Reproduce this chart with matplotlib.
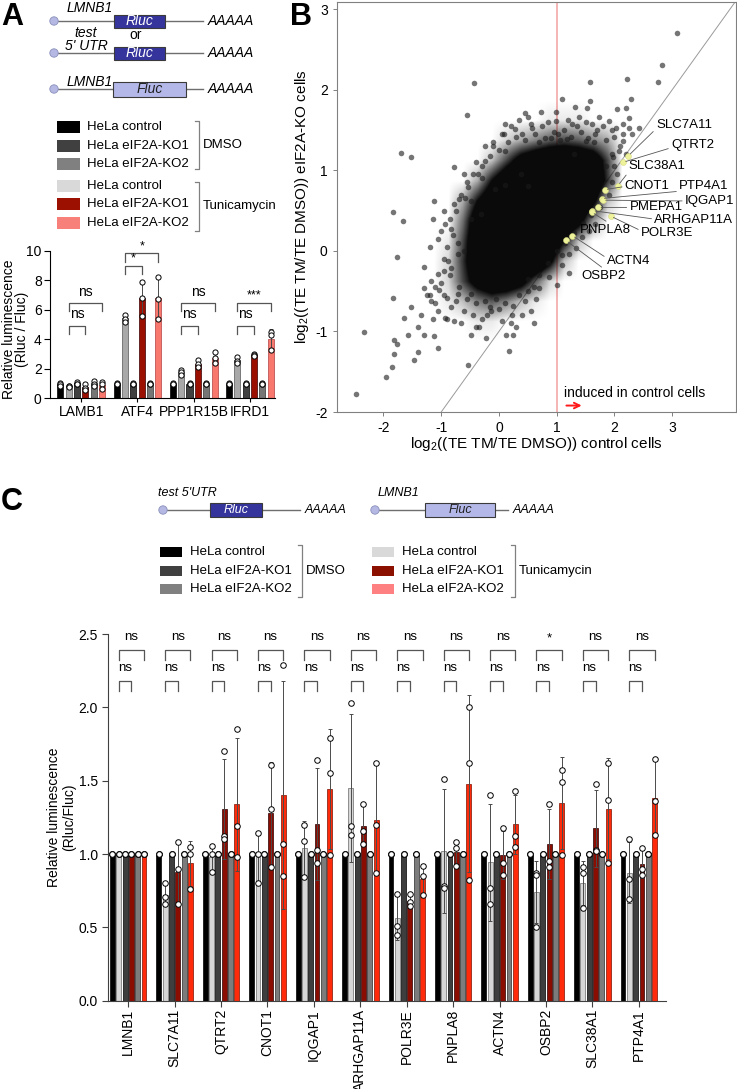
import numpy as np
import matplotlib
matplotlib.use('Agg')
import matplotlib.pyplot as plt
from matplotlib.patches import Rectangle, Circle
from matplotlib.colors import LinearSegmentedColormap

plt.rcParams['font.family'] = ['Liberation Sans', 'DejaVu Sans']
plt.rcParams['mathtext.fontset'] = 'custom'
plt.rcParams['mathtext.rm'] = 'Liberation Sans'
plt.rcParams['axes.unicode_minus'] = False

NARROW = ['Liberation Sans Narrow', 'Liberation Sans', 'DejaVu Sans']

# ---------------- panel A data (replicates, bar = mean) ----------------
genes_a = ['LAMB1', 'ATF4', 'PPP1R15B', 'IFRD1']
ctrl_dmso_a = [[1.05, 0.95, 0.85], [1.05, 1.0, 0.95], [1.05, 1.0, 0.95], [1.05, 1.0, 0.95]]
ctrl_tm_a = [[0.85, 0.8, 0.75], [5.65, 5.4, 5.2], [1.95, 1.75, 1.6], [2.8, 2.55, 2.4]]
ko1_dmso_a = [[1.1, 1.0, 0.95], [1.05, 1.0, 0.95], [1.05, 1.0, 0.95], [1.05, 1.0, 0.95]]
ko1_tm_a = [[1.0, 0.7, 0.55], [7.9, 6.8, 5.6], [2.6, 2.3, 2.1], [3.0, 2.9, 2.85]]
ko2_dmso_a = [[1.2, 1.0, 0.85], [1.05, 1.0, 0.95], [1.05, 1.0, 0.95], [1.05, 1.0, 0.95]]
ko2_tm_a = [[1.1, 1.0, 0.65], [8.2, 6.7, 5.4], [3.15, 2.7, 2.4], [4.5, 4.3, 3.3]]
sig_inner_a = ['ns', '*', 'ns', 'ns']
sig_outer_a = ['ns', '*', 'ns', '***']

# ---------------- panel B data ----------------
# individual points read around / outside the dense cloud
bg_x = [3.09, 2.83, 2.21, 2.75, 1.57, -0.43, 1.10, 1.58, 2.28, 1.31, 1.52, 2.05, 2.20, -0.56, 0.72,
        0.99, 0.45, -1.70, -1.52, -0.77, -1.13, -1.83, -1.66, -1.77, -2.34, -2.47, -1.95, -1.86, -1.81,
        -1.83, -1.41, -1.12, -1.06, -0.53, 0.18, 0.13, 0.25, 0.55, 1.21, 1.01, -0.22, -0.48, -0.90,
        -1.41, -1.47, -1.15, -1.17, -1.03, -0.88, -0.71, -0.94, -1.00, -0.83, -0.48, -0.31, -0.07, 0.10,
        0.51, 0.38, 0.10, 0.08, 0.10, 0.28, 0.40, 0.57, 0.51, 0.74, 0.98, 1.03, 1.27, 1.38, 1.62, 1.73,
        1.91, 2.02, 2.14, 2.26, 2.31, 2.14, 2.08, 1.97, 1.67, 1.50, 1.18, -0.24, -0.36, -0.53, -0.59,
        -0.77, -0.48, -0.71, -0.83, -1.06, -1.17, -1.29, -1.52, -1.64, -1.58, -1.29, -1.76, -1.81, -0.94,
        -0.83, -0.71, -0.48, -0.24, -0.13, 0.05, 0.22, 0.45, 0.69, 0.86, 1.09, 1.21, 1.33, 1.44, 1.56,
        1.67, -0.39, -0.77, 2.43, 1.30, 0.90, -0.10, -0.30, 0.60, 1.85, -1.35, -1.20, -0.60, 0.30,
        0.15, 0.30, 0.45, 0.62, 0.80, 0.95, 1.12, 1.25, 1.42, 1.55, 1.70, 1.85, 2.00, 2.10, 0.00,
        -0.15, -0.30, 1.95, 2.00, 2.05, -0.45, -0.55, -0.65, -0.75, -0.85, -0.80, -0.90, -0.95, -0.85,
        -1.00, -0.95, -1.10, -0.75, -0.60, -0.45, -0.30, -0.15, 0.00, 0.25, 0.35, 0.70, 0.85, 1.00,
        1.15, 1.30, 1.45, 1.60, 1.75, 1.90, 1.95, 0.60, 0.50, 1.10,
        -1.25, -1.10, -1.05, -0.95, -0.90, -0.70, -0.65, -0.55, -0.40, -0.35, -0.20, -0.05, 0.10, 0.20,
        0.40, 0.50, 0.65, -1.30, -1.20, -1.05, -1.15, -0.95, -0.70, -0.60, -0.40, -0.25,
        0.20, 0.35, 0.55, 0.70, 0.85, 1.05, 1.20, 1.35, 1.50, 1.65, 1.80, 1.95, 2.15, 2.20, 2.25,
        0.05, -0.10]
bg_y = [2.70, 2.31, 2.14, 2.10, 2.10, 2.08, 1.88, 1.86, 1.88, 1.79, 1.77, 1.76, 1.77, 1.69, 1.73,
        1.73, 1.71, 1.22, 1.16, 1.04, 0.62, 0.48, 0.37, -0.07, -1.01, -1.78, -1.56, -1.44, -1.11,
        -0.58, -0.95, -1.06, -1.20, -1.42, -1.24, -1.05, -1.04, -0.74, -0.27, -0.42, -1.08, -1.04, -0.58,
        -1.26, -1.35, -0.84, -0.62, -0.48, -0.12, 0.10, 0.33, 0.25, 0.27, 0.39, 0.46, 0.77, 0.82,
        0.80, 0.95, 1.24, 1.45, 1.57, 1.51, 1.45, 1.53, 1.66, 1.55, 1.61, 1.45, 1.57, 1.66, 1.57, 1.66,
        1.61, 1.53, 1.57, 1.53, 1.45, 1.37, 1.24, 1.16, 1.45, 1.37, 1.39, 1.12, 0.95, 0.79, 0.66,
        0.58, 0.62, -0.04, -0.21, -0.29, -0.37, -0.46, -0.70, -0.83, -1.04, -1.04, -1.16, -1.28, -0.83,
        -0.70, -0.54, -0.54, -0.62, -0.75, -0.87, -0.79, -0.62, -0.46, -0.33, -0.17, -0.04, 0.04, 0.17, 0.25,
        0.33, -0.95, -0.87, 1.53, 1.20, 1.40, 1.30, 0.90, -0.90, 1.05, -0.80, -0.55, 0.00, -0.95,
        1.35, 1.42, 1.38, 1.45, 1.40, 1.48, 1.50, 1.42, 1.47, 1.40, 1.50, 1.38, 1.42, 1.30, 1.25,
        1.18, 1.05, 1.20, 1.05, 0.95, 0.95, 0.85, 0.70, 0.50, 0.40, 0.20, 0.05, -0.10, -0.30,
        -0.40, -0.55, -0.65, -0.62, -0.75, -0.80, -0.85, -0.70, -0.72, -0.68, -0.55, -0.30, -0.15, 0.00,
        0.10, 0.22, 0.35, 0.45, 0.55, 0.70, 0.85, -0.45, -0.35, -0.05,
        -0.55, -0.45, -0.75, -0.25, -0.85, -0.45, -0.90, -0.60, -0.65, -0.95, -0.80, -0.60, -0.65, -0.90,
        -0.80, -0.50, -0.60, -0.20, 0.05, 0.15, 0.40, 0.50, 0.65, 0.95, 1.10, 1.30,
        1.55, 1.62, 1.58, 1.35, 1.60, 1.38, 1.62, 1.55, 1.60, 1.35, 1.55, 1.50, 1.45, 1.20, 1.65,
        1.45, 1.35]
# density of the central cloud (0 = empty, 1 = solid black), read on a 0.25 grid
dens_x_edges = [-1.75, 2.5]
dens_y_edges = [-1.25, 2.0]
dens_rows = [  # rows y = 1.875 ... -1.125 (top to bottom); columns x = -1.625 ... 2.375
    [0, 0, 0, 0, 0, 0, 0, 0, 0, 0, 0, 0, 0, 0, 0, 0, 0],
    [0, 0, 0, 0, 0, 0, 0, 0, 0, 0, 0.05, 0.05, 0.05, 0, 0, 0, 0],
    [0, 0, 0, 0, 0, 0, 0, 0.10, 0.20, 0.30, 0.40, 0.45, 0.40, 0.30, 0.20, 0, 0],
    [0, 0, 0, 0, 0, 0, 0.15, 0.45, 0.75, 0.90, 1.0, 1.0, 0.95, 0.85, 0.45, 0, 0],
    [0, 0, 0, 0, 0, 0.20, 0.60, 0.90, 1.0, 1.0, 1.0, 1.0, 1.0, 0.95, 0.50, 0, 0],
    [0, 0, 0, 0, 0.20, 0.60, 0.90, 1.0, 1.0, 1.0, 1.0, 1.0, 1.0, 0.70, 0.15, 0, 0],
    [0, 0, 0, 0, 0.35, 0.85, 1.0, 1.0, 1.0, 1.0, 1.0, 1.0, 0.75, 0.25, 0, 0, 0],
    [0, 0, 0, 0.05, 0.45, 0.90, 1.0, 1.0, 1.0, 1.0, 1.0, 0.60, 0.15, 0, 0, 0, 0],
    [0, 0, 0, 0.10, 0.50, 0.90, 1.0, 1.0, 1.0, 1.0, 0.70, 0.15, 0, 0, 0, 0, 0],
    [0, 0, 0, 0.10, 0.45, 0.75, 0.90, 0.90, 0.75, 0.40, 0.10, 0, 0, 0, 0, 0, 0],
    [0, 0, 0, 0.05, 0.15, 0.30, 0.40, 0.30, 0.15, 0.05, 0, 0, 0, 0, 0, 0, 0],
    [0, 0, 0, 0, 0, 0.05, 0.05, 0, 0, 0, 0, 0, 0, 0, 0, 0, 0],
    [0, 0, 0, 0, 0, 0, 0, 0, 0, 0, 0, 0, 0, 0, 0, 0, 0],
]
hi_genes = ['SLC7A11', 'QTRT2', 'SLC38A1', 'CNOT1', 'PTP4A1', 'IQGAP1', 'PMEPA1',
            'ARHGAP11A', 'POLR3E', 'PNPLA8', 'ACTN4', 'OSBP2']
hi_x = [2.24, 2.15, 2.06, 1.83, 1.78, 1.80, 1.72, 1.62, 1.94, 1.61, 1.27, 1.16]
hi_y = [1.18, 1.10, 0.81, 0.76, 0.65, 0.63, 0.54, 0.50, 0.43, 0.48, 0.19, 0.13]
# label placement (text anchor, attach point on text box)
hi_text_pos = [(2.72, 1.56), (2.98, 1.31), (2.24, 1.05), (2.18, 0.80), (3.12, 0.80), (3.22, 0.62),
               (2.26, 0.54), (2.69, 0.38), (2.46, 0.22), (1.40, 0.26), (1.87, -0.12), (1.42, -0.31)]
hi_relpos = [(0, 0.2), (0, 0.3), (0, 0.0), (0, 0.5), (0, 0.1), (0, 0.5),
             (0, 0.5), (0, 0.6), (0, 0.7), (0.6, 1.0), (0, 0.7), (0.55, 1.0)]

# ---------------- panel C data ----------------
genes_c = ['LMNB1', 'SLC7A11', 'QTRT2', 'CNOT1', 'IQGAP1', 'ARHGAP11A', 'POLR3E',
           'PNPLA8', 'ACTN4', 'OSBP2', 'SLC38A1', 'PTP4A1']
dmso_c = [[1.0, 1.0, 1.0]] * 12
ctrl_tm_c = [[1.0, 1.0, 1.0], [0.80, 0.71, 0.66], [1.055, 1.0, 0.88], [1.14, 1.0, 0.80],
             [1.20, 1.09, 0.84], [2.03, 1.19, 1.13], [0.73, 0.51, 0.45], [1.51, 0.78, 0.77],
             [1.40, 0.77, 0.66], [0.87, 0.86, 0.50], [0.91, 0.87, 0.63], [1.10, 0.83, 0.69]]
ko1_tm_c = [[1.0, 1.0, 1.0], [1.08, 0.90, 0.66], [1.70, 1.12, 1.10], [1.61, 1.31, 0.91],
            [1.64, 1.03, 0.94], [1.34, 1.16, 1.07], [0.725, 0.67, 0.645], [1.08, 1.04, 0.92],
            [1.18, 0.94, 0.86], [1.34, 0.95, 0.91], [1.48, 1.03, 1.02], [1.04, 0.90, 0.86]]
ko2_tm_c = [[1.0, 1.0, 1.0], [1.05, 1.0, 0.76], [1.85, 1.19, 0.98], [2.29, 1.07, 0.85],
            [1.79, 1.55, 0.99], [1.62, 1.20, 0.87], [0.92, 0.85, 0.72], [2.0, 1.62, 0.82],
            [1.43, 1.125, 1.05], [1.57, 1.49, 0.99], [1.62, 1.37, 0.94], [1.65, 1.36, 1.13]]
sig_inner_c = ['ns'] * 12
sig_outer_c = ['ns', 'ns', 'ns', 'ns', 'ns', 'ns', 'ns', 'ns', 'ns', '*', 'ns', 'ns']

# ---------------- figure ----------------
W, H = 737, 1089
fig = plt.figure(figsize=(W / 100, H / 100), dpi=100)


def px_axes(left, top, right, bottom):
    return fig.add_axes([left / W, 1 - bottom / H, (right - left) / W, (bottom - top) / H])


ov = fig.add_axes([0, 0, 1, 1])
ov.set_xlim(0, W)
ov.set_ylim(H, 0)
ov.axis('off')


def construct(x_cap, y, box_l, box_r, box_h, line_r, box_fc, label, label_color, fs, fam):
    ov.plot([x_cap, line_r], [y, y], color='#6e6e6e', lw=1.0, zorder=1)
    ov.add_patch(Rectangle((box_l, y - box_h / 2), box_r - box_l, box_h, fc=box_fc,
                           ec='#3a3a3a', lw=0.8, zorder=2))
    ov.text((box_l + box_r) / 2, y, label, color=label_color, style='italic', ha='center',
            va='center', fontsize=fs, family=fam, zorder=3)
    ov.add_patch(Circle((x_cap, y), 4.2, fc='#B4B8E2', ec='#8A90BC', lw=0.6, zorder=3))
    ov.text(line_r + 5, y, 'AAAAA', style='italic', ha='left', va='center', fontsize=fs, family=fam)


def legend_block(x_sq, w_sq, h_sq, x_txt, ys, colors, labels, fs, fam):
    for y, c, l in zip(ys, colors, labels):
        ov.add_patch(Rectangle((x_sq, y - h_sq / 2), w_sq, h_sq, fc=c, ec='none'))
        ov.text(x_txt, y, l, va='center', ha='left', fontsize=fs, family=fam)


def side_bracket(x, y0, y1, text, fs, fam):
    ov.plot([x - 4, x, x, x - 4], [y0, y0, y1, y1], color='#808080', lw=0.9)
    ov.text(x + 4, (y0 + y1) / 2, text, va='center', ha='left', fontsize=fs, family=fam)


def bar_panel(ax, conds, colors, edges, offsets, width, msize):
    for k, reps in enumerate(conds):
        vals = np.array(reps, dtype=float)
        means = vals.mean(axis=1)
        sds = vals.std(axis=1, ddof=1)
        x = np.arange(len(means)) + offsets[k]
        ax.bar(x, means, width, color=colors[k], edgecolor=edges[k], lw=0.5, zorder=2)
        ax.errorbar(x, means, yerr=sds, fmt='none', ecolor='#4a4a4a', elinewidth=0.7,
                    capsize=1.2, capthick=0.7, zorder=3)
        for j in range(len(means)):
            ax.scatter([x[j]] * 3, vals[j], s=msize, fc='white', ec='black', lw=0.7,
                       zorder=4, clip_on=False)


def sig_bracket(ax, x0, x1, top, drop, label, ty, fs):
    ax.plot([x0, x0, x1, x1], [top - drop, top, top, top - drop], color='#555555', lw=0.9,
            clip_on=False)
    ax.text((x0 + x1) / 2, ty, label, ha='center', va='center', fontsize=fs, clip_on=False)


# ---------------- panel A ----------------
ov.text(1, 2, 'A', fontsize=22, weight='bold', va='top', ha='left')
construct(54, 21, 114, 165, 13, 203, '#34349C', 'Rluc', 'white', 10, None)
construct(54, 53, 114, 165, 13, 203, '#34349C', 'Rluc', 'white', 10, None)
construct(54, 89, 113, 186, 15, 203, '#B3B8E8', 'Fluc', '#202020', 10, None)
ov.text(90, 8, 'LMNB1', style='italic', ha='center', va='center', fontsize=10)
ov.text(136, 35, 'or', ha='center', va='center', fontsize=10)
ov.text(86, 33, 'test', style='italic', ha='center', va='center', fontsize=10)
ov.text(86, 46, "5' UTR", style='italic', ha='center', va='center', fontsize=10)
ov.text(90, 82, 'LMNB1', style='italic', ha='center', va='center', fontsize=10)

leg_labels = ['HeLa control', 'HeLa eIF2A-KO1', 'HeLa eIF2A-KO2'] * 2
legend_block(57, 23, 12, 87, [127, 146, 164, 186, 204, 223],
             ['#000000', '#404040', '#808080', '#D9D9D9', '#9B1000', '#F8807A'],
             leg_labels, 9.5, None)
side_bracket(199, 121, 169, 'DMSO', 9.5, None)
side_bracket(199, 182, 231, 'Tunicamycin', 9.5, None)

axa = px_axes(50, 250.7, 275, 398.3)
off_a = [(k - 2.5) * 0.149 for k in range(6)]
bar_panel(axa, [ctrl_dmso_a, ctrl_tm_a, ko1_dmso_a, ko1_tm_a, ko2_dmso_a, ko2_tm_a],
          ['#000000', '#A8A8A8', '#404040', '#9B0F00', '#767676', '#F8786E'],
          ['#000000', '#555555', '#000000', '#3a0000', '#333333', '#b04040'], off_a, 0.107, 14)
axa.set_xlim(-0.557, 3.447)
axa.set_ylim(0, 10)
axa.set_yticks([0, 2, 4, 6, 8, 10])
axa.set_xticks(range(4))
axa.set_xticklabels(genes_a, fontsize=10)
axa.tick_params(axis='y', labelsize=10, length=4, width=0.8, pad=2)
axa.tick_params(axis='x', length=3, width=0.8, pad=2)
axa.spines['top'].set_visible(False)
axa.spines['right'].set_visible(False)
axa.set_ylabel('Relative luminescence\n(Rluc / Fluc)', fontsize=10, linespacing=0.9)
axa.yaxis.set_label_coords(-0.093, 0.47)
for i in range(4):
    if sig_inner_a[i] == '*':
        sig_bracket(axa, i + off_a[1], i + off_a[3], 8.96, 0.56, sig_inner_a[i], 9.45, 9)
        sig_bracket(axa, i + off_a[1], i + off_a[5], 9.82, 0.56, sig_outer_a[i], 10.28, 9)
    else:
        sig_bracket(axa, i + off_a[1], i + off_a[3], 4.9, 0.55, sig_inner_a[i], 5.7, 10)
        sig_bracket(axa, i + off_a[1], i + off_a[5], 6.45, 0.55, sig_outer_a[i],
                    7.2 if sig_outer_a[i] == 'ns' else 7.0, 10 if sig_outer_a[i] == 'ns' else 9)

# ---------------- panel B ----------------
ov.text(290, 2, 'B', fontsize=22, weight='bold', va='top', ha='left')
axb = px_axes(336.7, 2, 735.7, 412)
axb.axvline(1, color='#F2A0A0', lw=1.1, zorder=0.5)
axb.axline((0, -1), slope=1, color='#9a9a9a', lw=0.7, zorder=0.6)
dark_cmap = LinearSegmentedColormap.from_list('dens', [(0, 0, 0, 0), (0.04, 0.04, 0.04, 1)])
axb.imshow(np.array(dens_rows), cmap=dark_cmap, vmin=0, vmax=0.6, interpolation='bilinear',
           extent=[dens_x_edges[0], dens_x_edges[1], dens_y_edges[0], dens_y_edges[1]],
           aspect='auto', zorder=1)
axb.scatter(bg_x, bg_y, s=16, color='#1a1a1a', alpha=0.6, lw=0, zorder=3)
axb.scatter(hi_x, hi_y, s=18, color='#EEF29A', ec='#D8DC80', lw=0.4, zorder=6)
for g, px, py, (tx, ty), rp in zip(hi_genes, hi_x, hi_y, hi_text_pos, hi_relpos):
    axb.annotate(g, xy=(px, py), xytext=(tx, ty), ha='left', va='center', fontsize=9.5,
                 arrowprops=dict(arrowstyle='-', color='#555555', lw=0.6, shrinkA=0, shrinkB=2,
                                 relpos=rp), zorder=7)
axb.text(1.12, -1.77, 'induced in control cells', fontsize=10, ha='left', va='center')
axb.annotate('', xy=(1.48, -1.92), xytext=(1.12, -1.92),
             arrowprops=dict(arrowstyle='->', color='#FF1A1A', lw=1.4))
axb.set_xlim(-2.81, 4.1)
axb.set_ylim(-2.0, 3.09)
axb.set_xticks([-2, -1, 0, 1, 2, 3])
axb.set_yticks([-2, -1, 0, 1, 2, 3])
axb.tick_params(labelsize=10, length=3, width=0.7, color='#808080')
for s in axb.spines.values():
    s.set_color('#808080')
    s.set_linewidth(0.8)
axb.set_xlabel(r'log$_2$((TE TM/TE DMSO)) control cells', fontsize=11, labelpad=0)
axb.set_ylabel(r'log$_2$((TE TM/TE DMSO)) eIF2A-KO cells', fontsize=11, labelpad=3)

# ---------------- panel C ----------------
ov.text(1, 487, 'C', fontsize=22, weight='bold', va='top', ha='left', family=NARROW)
construct(163, 510, 210, 262, 14, 300, '#34349C', 'Rluc', 'white', 9, NARROW)
construct(375, 510, 425, 495, 14, 508, '#B3B8E8', 'Fluc', '#202020', 9, NARROW)
ov.text(158, 493, "test 5'UTR", style='italic', ha='left', va='center', fontsize=9, family=NARROW)
ov.text(378, 493, 'LMNB1', style='italic', ha='left', va='center', fontsize=9, family=NARROW)
legend_block(160, 22, 10, 190, [552, 571, 589], ['#000000', '#404040', '#808080'],
             ['HeLa control', 'HeLa eIF2A-KO1', 'HeLa eIF2A-KO2'], 9.5, NARROW)
side_bracket(302, 545, 597, 'DMSO', 9.5, NARROW)
legend_block(372, 22, 10, 402, [552, 571, 589], ['#D9D9D9', '#8B1000', '#FF8080'],
             ['HeLa control', 'HeLa eIF2A-KO1', 'HeLa eIF2A-KO2'], 9.5, NARROW)
side_bracket(515, 545, 597, 'Tunicamycin', 9.5, NARROW)

axc = px_axes(108.3, 634, 665.7, 1000.7)
off_c = [(k - 2.5) * 0.136 for k in range(6)]
bar_panel(axc, [dmso_c, ctrl_tm_c, dmso_c, ko1_tm_c, dmso_c, ko2_tm_c],
          ['#000000', '#D6D6D6', '#3e3e3e', '#8B0C00', '#7c7c7c', '#FF2A0A'],
          ['#000000', '#6a6a6a', '#000000', '#2a0000', '#2a2a2a', '#7a1000'], off_c, 0.105, 16)
axc.set_xlim(-0.43, 11.58)
axc.set_ylim(0, 2.5)
axc.set_yticks([0, 0.5, 1.0, 1.5, 2.0, 2.5])
axc.set_yticklabels(['0.0', '0.5', '1.0', '1.5', '2.0', '2.5'])
axc.set_xticks(range(12))
axc.set_xticklabels(genes_c, rotation=90, fontsize=10)
axc.tick_params(axis='y', labelsize=10, length=4, width=0.8, color='#404040')
axc.tick_params(axis='x', length=4, width=0.8, color='#404040', pad=2)
axc.spines['top'].set_visible(False)
axc.spines['right'].set_visible(False)
axc.spines['left'].set_color('#404040')
axc.spines['bottom'].set_color('#404040')
axc.set_ylabel('Relative luminescence\n(Rluc/Fluc)', fontsize=10, labelpad=2, linespacing=1.05)
for i in range(12):
    sig_bracket(axc, i + off_c[1], i + off_c[3], 2.18, 0.07, sig_inner_c[i], 2.27, 9.5)
    sig_bracket(axc, i + off_c[1], i + off_c[5], 2.39, 0.065, sig_outer_c[i],
                2.48 if sig_outer_c[i] == 'ns' else 2.47, 9.5)

fig.savefig('out.png', dpi=100)
